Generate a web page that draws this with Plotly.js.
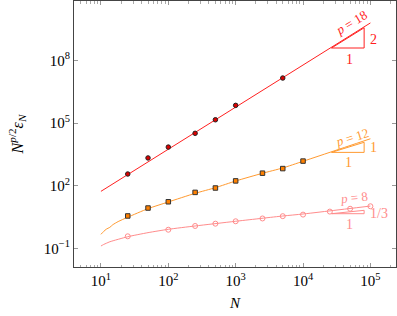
<!DOCTYPE html>
<html>
<head>
<meta charset="utf-8">
<script src="https://cdn.plot.ly/plotly-3.0.1.min.js"></script>
<style>html,body{margin:0;padding:0;background:#fff}#chart{width:397px;height:316px}</style>
</head>
<body>
<div id="chart"></div>
<script>
// ---- data ----
// p = 18 (red, filled circles)
const p18N = [25, 50, 100, 250, 500, 1000, 5000];
const p18Y = [10**2.56, 10**3.33, 10**3.85, 10**4.51, 10**5.16, 10**5.85, 10**7.16];
const p18FitN = [10, 100000];
const p18FitY = [10**1.73, 10**9.80];

// p = 12 (orange, squares)
const p12N = [25, 50, 100, 250, 500, 1000, 2500, 5000, 10000];
const p12Y = [10**0.55, 10**0.93, 10**1.23, 10**1.68, 10**1.89, 10**2.23, 10**2.60, 10**2.82, 10**3.18];
const p12FitN = [10, 11, 12, 13.6, 15, 18, 25, 50, 100, 250, 500, 1000, 2500, 5000, 10000, 100000];
const p12FitY = [10**-0.33, 10**-0.19, 10**-0.085, 10**0.01, 10**0.13, 10**0.28, 10**0.49, 10**0.90, 10**1.22, 10**1.635, 10**1.905, 10**2.225, 10**2.595, 10**2.85, 10**3.17, 10**4.25];

// p = 8 (pink, open circles)
const p8N = [25, 100, 250, 500, 1000, 2500, 5000, 10000, 25000, 50000, 100000];
const p8Y = [10**-0.425, 10**-0.11, 10**0.07, 10**0.18, 10**0.295, 10**0.43, 10**0.54, 10**0.615, 10**0.76, 10**0.895, 10**1.015];
const p8FitN = [10, 11, 12, 13.6, 25, 50, 100, 250, 1000, 5000, 10000, 100000];
const p8FitY = [10**-0.89, 10**-0.815, 10**-0.76, 10**-0.685, 10**-0.445, 10**-0.25, 10**-0.09, 10**0.07, 10**0.295, 10**0.548, 10**0.644, 10**1.025];

// slope triangles: [N left, N right], [y bottom, y top]
const triN = [10**4.423, 10**4.907];
const tri18Y = [10**8.598, 10**9.568];
const tri12Y = [10**3.596, 10**4.081];
const tri8Y = [10**0.658, 10**0.82];

// tick labels
const xTickVals = [10, 100, 1000, 10000, 100000];
const xTickText = ['10<sup>1</sup>', '10<sup>2</sup>', '10<sup>3</sup>', '10<sup>4</sup>', '10<sup>5</sup>'];
const yTickVals = [0.1, 100, 100000, 100000000];
const yTickText = ['10<sup>−1</sup>', '10<sup>2</sup>', '10<sup>5</sup>', '10<sup>8</sup>'];
const xMinorVals = [];
for (let k = 0; k <= 5; k++) for (let m = 2; m <= 9; m++) xMinorVals.push(m * 10**k);

// ---- styles ----
const RED = '#ff2020', ORANGE = '#ff9a30', PINK = '#ff8c8c';
const FONT = 'Liberation Serif';

function triangle(yb, color) {
  return {x: [triN[0], triN[1], triN[1], triN[0]], y: [yb[0], yb[0], yb[1], yb[0]],
    mode: 'lines', line: {color: color, width: 1}, hoverinfo: 'skip', showlegend: false};
}

const traces = [
  {x: p18FitN, y: p18FitY, mode: 'lines', line: {color: RED, width: 1}},
  {x: p12FitN, y: p12FitY, mode: 'lines', line: {color: ORANGE, width: 1, shape: 'spline', smoothing: 0.6}},
  {x: p8FitN, y: p8FitY, mode: 'lines', line: {color: PINK, width: 1, shape: 'spline', smoothing: 0.6}},
  triangle(tri18Y, RED), triangle(tri12Y, ORANGE), triangle(tri8Y, PINK),
  {x: p18N, y: p18Y, mode: 'markers', marker: {symbol: 'circle', size: 4.5, color: '#dd0000', line: {color: '#222', width: 1}}},
  {x: p12N, y: p12Y, mode: 'markers', marker: {symbol: 'square', size: 4.5, color: '#ff8000', line: {color: '#333', width: 1}}},
  {x: p8N, y: p8Y, mode: 'markers', marker: {symbol: 'circle-open', size: 5, color: PINK, line: {color: PINK, width: 1}}}
];

function ann(x, y, text, color, angle, size) {
  return {x: x, y: y, xref: 'x', yref: 'y', text: text, showarrow: false,
    font: {family: FONT, size: size || 13, color: color}, textangle: angle || 0};
}

const layout = {
  width: 397, height: 316,
  margin: {l: 74, r: 1, t: 1, b: 49},
  paper_bgcolor: '#fff', plot_bgcolor: '#fff',
  showlegend: false,
  font: {family: FONT, size: 14, color: '#000'},
  xaxis: {
    type: 'log', range: [0.6, 5.38],
    tickmode: 'array', tickvals: xTickVals, ticktext: xTickText,
    ticks: 'inside', ticklen: 4, tickcolor: '#999', tickwidth: 1,
    minor: {tickmode: 'array', tickvals: xMinorVals, ticks: 'inside', ticklen: 2.5, tickcolor: '#aaa', showgrid: false},
    showline: true, linecolor: '#444', linewidth: 1, mirror: 'ticks',
    showgrid: false, zeroline: false,
    tickfont: {family: FONT, size: 15},
    title: {text: '<i>N</i>', font: {family: FONT, size: 15}, standoff: 9}
  },
  yaxis: {
    type: 'log', range: [-1.896, 10.851],
    tickmode: 'array', tickvals: yTickVals, ticktext: yTickText,
    ticks: 'inside', ticklen: 4, tickcolor: '#999', tickwidth: 1,
    showline: true, linecolor: '#444', linewidth: 1, mirror: 'ticks',
    showgrid: false, zeroline: false,
    tickfont: {family: FONT, size: 15},
    title: {text: '<i>N</i><sup><i>p</i>/2</sup><i>ε</i><sub><i>N</i></sub>', font: {family: FONT, size: 16}, standoff: 16}
  },
  annotations: [
    ann(4.715, 9.83, '<i>p</i> = 18', RED, -31),
    ann(5.043, 9.03, '2', RED, 0, 14),
    ann(4.684, 8.07, '1', RED, 0, 14),
    ann(4.72, 4.30, '<i>p</i> = 12', ORANGE, -17),
    ann(5.04, 3.81, '1', ORANGE, 0, 14),
    ann(4.67, 3.09, '1', ORANGE, 0, 14),
    ann(4.75, 1.43, '<i>p</i> = 8', PINK, -6),
    ann(5.13, 0.69, '1/3', PINK, 0, 14),
    ann(4.684, 0.13, '1', PINK, 0, 14)
  ]
};

Plotly.newPlot('chart', traces, layout, {staticPlot: true, displayModeBar: false});
</script>
</body>
</html>
